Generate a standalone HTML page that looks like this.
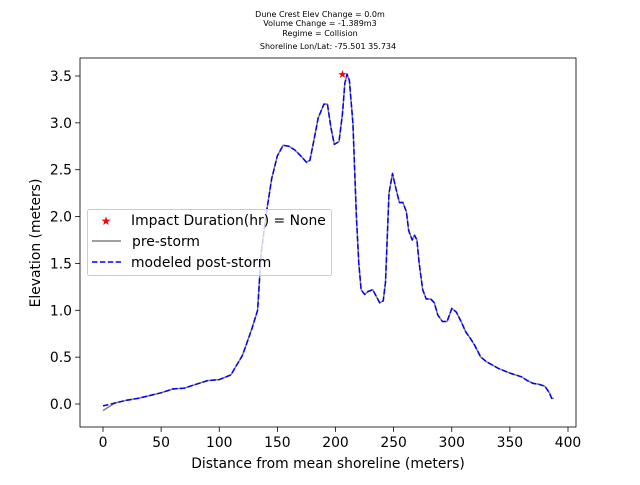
<!DOCTYPE html>
<html><head><meta charset="utf-8"><style>
body{margin:0;background:#fff;font-family:"Liberation Sans","DejaVu Sans",sans-serif}
svg text{font-family:"DejaVu Sans","Liberation Sans",sans-serif}
</style></head><body>
<svg id="c" width="640" height="480" viewBox="0 0 640 480">
<rect width="640" height="480" fill="#fff"/>
<g font-size="8" text-anchor="middle" fill="#000">
<text x="320" y="17">Dune Crest Elev Change = 0.0m</text>
<text x="320" y="26">Volume Change = -1.389m3</text>
<text x="320" y="36">Regime = Collision</text>
<text x="328" y="49">Shoreline Lon/Lat: -75.501 35.734</text>
</g>
<g id="plot"></g>
</svg>
<script>
const dist=[0,10,20,30,40,50,60,70,80,90,100,110,120,128,133,136,140,145,150,155,160,165,170,175,178,182,185,190,193,196,199,203,206,208,210,212,215,218,220,222,225,228,232,235,238,241,243,246,249,252,255,258,261,263,266,268,270,272,275,278,282,285,288,292,296,300,304,308,312,316,320,325,330,340,350,360,365,370,375,380,384,386,388];
const post=[-0.02,0.01,0.04,0.06,0.09,0.12,0.16,0.17,0.21,0.25,0.26,0.31,0.52,0.80,1.0,1.6,2.0,2.4,2.65,2.76,2.75,2.71,2.65,2.58,2.6,2.85,3.05,3.2,3.2,2.95,2.77,2.8,3.1,3.42,3.52,3.45,3.0,2.0,1.5,1.22,1.17,1.2,1.22,1.15,1.08,1.1,1.3,2.25,2.46,2.3,2.15,2.15,2.05,1.85,1.75,1.8,1.75,1.5,1.22,1.12,1.12,1.08,0.95,0.88,0.88,1.02,0.98,0.88,0.77,0.70,0.62,0.50,0.45,0.38,0.33,0.29,0.25,0.22,0.21,0.19,0.12,0.06,0.06];
const pre=post.map((v,i)=>i===0?-0.07:v);
const star=[206,3.52];
const xTicks=[0,50,100,150,200,250,300,350,400];
const yTicks=[0.0,0.5,1.0,1.5,2.0,2.5,3.0,3.5];
const L=80,R=576,T=58,B=427;
const X=d=>103+d*465/400, Y=e=>404-e*93.714;
const NS="http://www.w3.org/2000/svg",g=document.getElementById('plot');
function mk(t,a,p){const e=document.createElementNS(NS,t);for(const k in a)e.setAttribute(k,a[k]);(p||g).appendChild(e);return e;}
xTicks.forEach(t=>{
  const l=mk('line',{x1:X(t),x2:X(t),y1:B,y2:B+4.9,stroke:'#000','stroke-width':0.8});
  
  
  const s=mk('text',{x:X(t),y:B+20,'font-size':13.9,'text-anchor':'middle'});s.textContent=t;
  
  
});
yTicks.forEach(t=>{
  const l=mk('line',{x1:L-4.9,x2:L,y1:Y(t),y2:Y(t),stroke:'#000','stroke-width':0.8});
  
  
  const s=mk('text',{x:L-8,y:Y(t)+5,'font-size':13.9,'text-anchor':'end'});s.textContent=t.toFixed(1);
  
  
});
const pts=a=>dist.map((d,i)=>X(d).toFixed(1)+','+Y(a[i]).toFixed(1)).join(' ');
const p1=mk('polyline',{points:pts(pre),fill:'none',stroke:'#808080','stroke-width':1.5,'stroke-linejoin':'round'});


const p2=mk('polyline',{points:pts(post),fill:'none',stroke:'#0000ff','stroke-width':1.5,'stroke-dasharray':'5.5,2.4','stroke-linejoin':'round'});


const st=mk('text',{x:X(star[0]),y:Y(star[1])+4,'font-size':11,'text-anchor':'middle',fill:'red'});st.textContent='★';


const fr=mk('rect',{x:L,y:T,width:R-L,height:B-T,fill:'none',stroke:'#000','stroke-width':0.8});


const xl=mk('text',{x:328,y:468,'font-size':13.9,'text-anchor':'middle'});xl.textContent='Distance from mean shoreline (meters)';


const yl=mk('text',{x:0,y:0,'font-size':13.9,'text-anchor':'middle',transform:'translate(40,243) rotate(-90)'});yl.textContent='Elevation (meters)';


const lg=mk('g',{});


mk('rect',{x:87.5,y:209.5,width:244,height:66,rx:2,fill:'#fff','fill-opacity':0.8,stroke:'#ccc'},lg);
const e1=mk('text',{x:106,y:225,'font-size':12,'text-anchor':'middle',fill:'red'},lg);e1.textContent='★';
const t1=mk('text',{x:131,y:225,'font-size':13.9},lg);t1.textContent='Impact Duration(hr) = None';


mk('line',{x1:92,x2:121,y1:241,y2:241,stroke:'#808080','stroke-width':1.5},lg);
const t2=mk('text',{x:132,y:246,'font-size':13.9},lg);t2.textContent='pre-storm';


mk('line',{x1:92,x2:121,y1:262,y2:262,stroke:'#0000ff','stroke-width':1.5,'stroke-dasharray':'5.5,2.4'},lg);
const t3=mk('text',{x:131,y:267,'font-size':13.9},lg);t3.textContent='modeled post-storm';


</script>
</body></html>
